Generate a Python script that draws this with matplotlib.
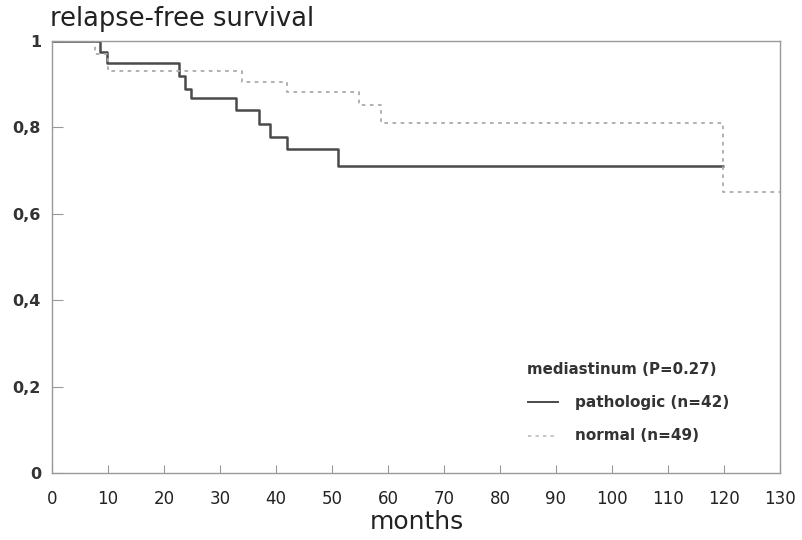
import matplotlib
matplotlib.use("Agg")
import matplotlib.pyplot as plt

# Kaplan-Meier step data (months, survival)
patho_t = [0, 8.6, 9.8, 22.6, 23.8, 24.8, 32.9, 37.0, 38.9, 42.0, 51.0, 120.0]
patho_s = [1.0, 0.974, 0.950, 0.919, 0.888, 0.869, 0.840, 0.809, 0.778, 0.750, 0.710, 0.710]
normal_t = [0, 7.7, 10.0, 34.0, 41.9, 54.9, 58.7, 119.9, 130.0]
normal_s = [1.0, 0.97, 0.931, 0.904, 0.881, 0.853, 0.811, 0.650, 0.650]

x_ticks = list(range(0, 131, 10))
y_ticks = [0, 0.2, 0.4, 0.6, 0.8, 1.0]
y_labels = ["0", "0,2", "0,4", "0,6", "0,8", "1"]

plt.rcParams['font.family'] = ['DejaVu Sans']

fig = plt.figure(figsize=(8.02, 5.40), dpi=100)
ax = fig.add_axes([52/802, 1-473/540, (780-52)/802, (473-41)/540])

ax.step(patho_t, patho_s, where='post', color='#4a4a4a', lw=1.8, solid_capstyle='butt')
ax.step(normal_t, normal_s, where='post', color='#aaaaaa', lw=1.3, linestyle=(0, (2, 2.5)))

ax.set_xlim(0, 130)
ax.set_ylim(0, 1)
ax.set_xticks(x_ticks)
ax.set_xticklabels([str(v) for v in x_ticks], fontsize=12, color='#222222')
ax.set_yticks(y_ticks)
ax.set_yticklabels(y_labels, fontsize=11.5, fontweight='bold', color='#333333')
ax.tick_params(axis='x', direction='in', length=6, color='#999999', pad=12)
ax.tick_params(axis='y', direction='in', length=8, color='#999999', pad=8)
for sp in ax.spines.values():
    sp.set_color('#999999')
    sp.set_linewidth(1.0)

fig.text(50/802, 1-19/540, "relapse-free survival", fontsize=18.5, color='#222222',
         fontweight='medium', va='center', ha='left')
fig.text(417/802, 1-522/540, "months", fontsize=18, color='#222222',
         va='center', ha='center')

# legend
lx0, lx1 = 528/802, 558/802
fig.text(527/802, 1-370/540, "mediastinum (P=0.27)", fontsize=10.8, fontweight='bold',
         color='#333333', va='center')
fig.add_artist(plt.Line2D([lx0, lx1], [1-402/540, 1-402/540], color='#4a4a4a', lw=1.4,
                          transform=fig.transFigure))
fig.text(575/802, 1-402/540, "pathologic (n=42)", fontsize=11, fontweight='bold',
         color='#333333', va='center')
fig.add_artist(plt.Line2D([lx0, lx1], [1-436/540, 1-436/540], color='#bbbbbb', lw=1.2,
                          linestyle=(0, (2, 2.5)), transform=fig.transFigure))
fig.text(575/802, 1-436/540, "normal (n=49)", fontsize=11, fontweight='bold',
         color='#333333', va='center')

fig.savefig("out.png", dpi=100)
